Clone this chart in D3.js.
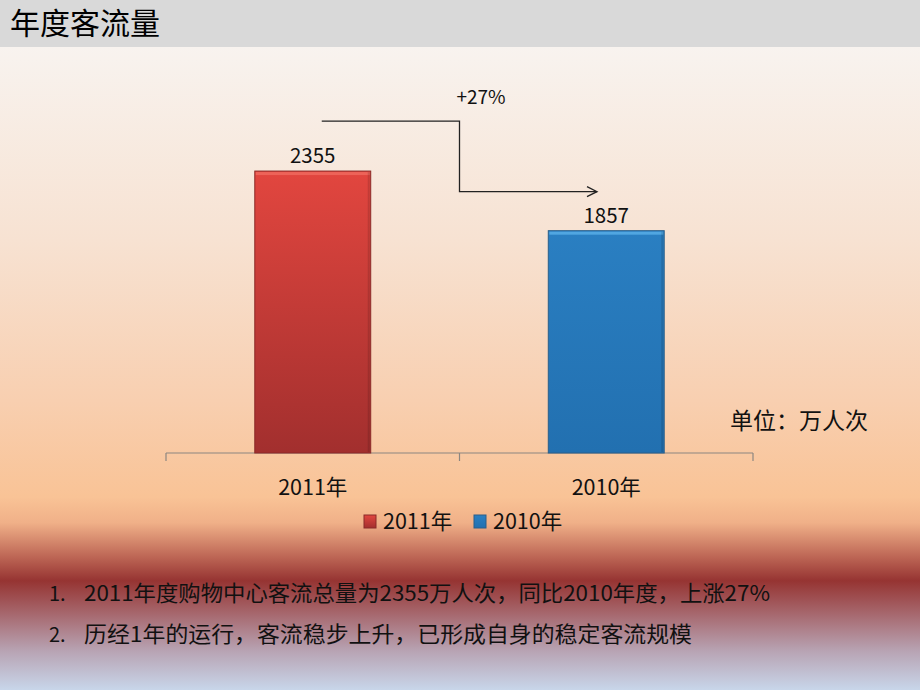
<!DOCTYPE html>
<html><head><meta charset="utf-8">
<script src="https://cdn.jsdelivr.net/npm/d3@7/dist/d3.min.js"></script>
<style>html,body{margin:0;padding:0;}svg{display:block;}</style>
</head><body>
<svg id="c" width="920" height="690"></svg>
<script>
const categories = ["2011年", "2010年"];
const values = [2355, 1857];
const valueLabels = ["2355", "1857"];
const legendLabels = ["2011年", "2010年"];
const title = "年度客流量";
const changeLabel = "+27%";
const unitLabel = "单位：万人次";
const notes = ["2011年度购物中心客流总量为2355万人次，同比2010年度，上涨27%", "历经1年的运行，客流稳步上升，已形成自身的稳定客流规模"];

const svg = d3.select("#c");
const defs = svg.append("defs");
const font = "'Noto Sans CJK SC', 'Noto Sans', sans-serif";

// background gradient
const bg = defs.append("linearGradient").attr("id","bg").attr("x1",0).attr("y1",0).attr("x2",0).attr("y2",1);
[[0,"#f8f3ef"],[0.3,"#f7e2d2"],[0.55,"#f8cfb0"],[0.70,"#f9c396"],[0.74,"#f0b088"],[0.79,"#c06a58"],[0.83,"#963432"],[0.88,"#a6666c"],[0.94,"#b8a4b4"],[1,"#c8d6ea"]]
 .forEach(([o,c])=>bg.append("stop").attr("offset",o).attr("stop-color",c));
svg.append("rect").attr("x",0).attr("y",47).attr("width",920).attr("height",643).attr("fill","url(#bg)");
svg.append("rect").attr("x",0).attr("y",0).attr("width",920).attr("height",47).attr("fill","#d9d9d9");
svg.append("text").attr("x",10).attr("y",34).attr("font-family",font).attr("font-size",30).attr("font-weight",400).attr("fill","#000").text(title);

// gradients for bars
const colors = [["#e2463f","#a22f2e"],["#2a7fc2","#2270b0"]];
colors.forEach((c,i)=>{
  const g = defs.append("linearGradient").attr("id","bar"+i).attr("x1",0).attr("y1",0).attr("x2",0).attr("y2",1);
  g.append("stop").attr("offset",0).attr("stop-color",c[0]);
  g.append("stop").attr("offset",1).attr("stop-color",c[1]);
});

const x = d3.scaleBand().domain(categories).range([166,753]).padding(0);
const y = d3.scaleLinear().domain([0,2500]).range([453,453-299.3]);
const bw = x.bandwidth()*0.395;

const axis = d3.axisBottom(x).tickSize(0).tickFormat("");
const ax = svg.append("g").attr("transform","translate(0,453)").call(axis);
ax.select(".domain").remove();
ax.append("line").attr("x1",166).attr("x2",753).attr("stroke","#8c8680").attr("stroke-width",1.2);
[166, 166+x.step(), 753].forEach(t=>ax.append("line").attr("x1",t).attr("x2",t).attr("y1",0).attr("y2",8).attr("stroke","#8c8680").attr("stroke-width",1.2));

categories.forEach((c,i)=>{
  const cx = x(c)+x.bandwidth()/2;
  const x0 = cx-bw/2, y0 = y(values[i]), h = y(0)-y(values[i]);
  svg.append("rect").attr("x",x0).attr("y",y0).attr("width",bw).attr("height",h).attr("fill","url(#bar"+i+")").attr("stroke",i===0?"#8a2a28":"#2a5f8a").attr("stroke-width",1);
  svg.append("rect").attr("x",x0+1).attr("y",y0+1).attr("width",bw-2).attr("height",3).attr("fill",i===0?"#f06a60":"#5ab0e8").attr("opacity",0.8);
  svg.append("rect").attr("x",x0+bw-3).attr("y",y0+1).attr("width",2).attr("height",h-2).attr("fill","#000").attr("opacity",0.12);
  svg.append("text").attr("x",cx).attr("y",y0-8).attr("text-anchor","middle").attr("font-family",font).attr("font-size",20.5).attr("fill","#111").text(valueLabels[i]);
  svg.append("text").attr("x",cx).attr("y",495).attr("text-anchor","middle").attr("font-family",font).attr("font-size",21.5).attr("fill","#111").text(c);
});

// arrow
const ax1 = x(categories[0])+x.bandwidth()/2+9, mid = 166+x.step(), ax2 = 597;
const yTop = y(values[0])-50, yBot = y(values[1])-39;
svg.append("path").attr("d",`M${ax1},${yTop}H${mid}V${yBot}H${ax2}`).attr("fill","none").attr("stroke","#222").attr("stroke-width",1.3);
svg.append("path").attr("d",`M${ax2-10},${yBot-5}L${ax2},${yBot}L${ax2-10},${yBot+5}`).attr("fill","none").attr("stroke","#222").attr("stroke-width",1.3);
svg.append("text").attr("x",481).attr("y",104).attr("text-anchor","middle").attr("font-family",font).attr("font-size",19).attr("fill","#111").text(changeLabel);

svg.append("text").attr("x",868).attr("y",429).attr("text-anchor","end").attr("font-family",font).attr("font-size",23).attr("fill","#111").text(unitLabel);

// legend
const lx = [364, 474];
legendLabels.forEach((l,i)=>{
  svg.append("rect").attr("x",lx[i]).attr("y",515).attr("width",12).attr("height",13).attr("fill","url(#bar"+i+")").attr("stroke",i===0?"#8a2a28":"#2a5f8a");
  svg.append("text").attr("x",lx[i]+19).attr("y",529).attr("font-family",font).attr("font-size",21.5).attr("fill","#111").text(l);
});

const noteW = [686, 608];
notes.forEach((n,i)=>{
  const yy = 601+i*41;
  svg.append("text").attr("x",49).attr("y",yy).attr("font-family",font).attr("font-size",20).attr("fill","#111").text((i+1)+".");
  svg.append("text").attr("x",84).attr("y",yy).attr("font-family",font).attr("font-size",21.5).attr("fill","#111")
    .attr("textLength",noteW[i]).attr("lengthAdjust","spacingAndGlyphs").text(n);
});
</script>
</body></html>
